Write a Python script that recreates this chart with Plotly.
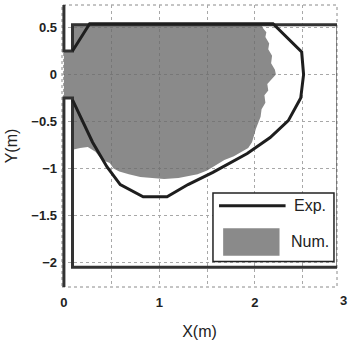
import plotly.graph_objects as go

# ---- data (metres) ----
# Experimental flood boundary (Exp.)
exp_x = [0.09, 0.27, 2.19, 2.49, 2.51, 2.48, 2.35, 2.16, 1.92, 1.56, 1.30, 1.20, 1.08, 0.83, 0.59, 0.45, 0.30, 0.09]
exp_y = [0.25, 0.54, 0.54, 0.24, 0.00, -0.25, -0.49, -0.67, -0.84, -1.04, -1.17, -1.23, -1.30, -1.30, -1.17, -0.98, -0.72, -0.27]

# Numerical flooded area (Num.)
num_x = [0.00, 0.09, 0.09, 2.07, 2.08, 2.12, 2.11, 2.15, 2.14, 2.18, 2.17, 2.21, 2.22, 2.17, 2.13, 2.14,
         2.10, 2.11, 2.07, 2.06, 2.03, 2.01, 1.99, 1.97, 1.93, 1.86, 1.78, 1.68, 1.60, 1.50, 1.40, 1.30,
         1.20, 1.05, 0.95, 0.80, 0.68, 0.58, 0.52, 0.48, 0.40, 0.36, 0.33, 0.25, 0.17, 0.09, 0.09, 0.00]
num_y = [0.25, 0.25, 0.54, 0.54, 0.50, 0.45, 0.40, 0.33, 0.27, 0.20, 0.12, 0.05, 0.00, -0.05, -0.10, -0.17,
         -0.22, -0.30, -0.37, -0.45, -0.52, -0.58, -0.65, -0.72, -0.78, -0.82, -0.87, -0.91, -0.96, -1.02, -1.06, -1.08,
         -1.10, -1.11, -1.10, -1.09, -1.06, -1.03, -1.00, -0.94, -0.91, -0.86, -0.82, -0.77, -0.78, -0.80, -0.25, -0.25]

# Basin walls with inlet
tank_x = [0.00, 0.00, 0.09, 0.09, 2.87, 2.87, 0.09, 0.09, 0.00, 0.00]
tank_y = [0.74, 0.25, 0.25, 0.53, 0.53, -2.05, -2.05, -0.25, -0.25, -2.26]

x_ticks = [0, 0.5, 1, 1.5, 2, 2.5]
x_labels = ["0", "", "1", "", "2", ""]
y_ticks = [0.5, 0, -0.5, -1, -1.5, -2]
y_labels = ["0.5", "0", "\u22120.5", "\u22121", "\u22121.5", "\u22122"]

FONT = "Liberation Sans, Arial, sans-serif"

fig = go.Figure()
fig.add_trace(go.Scatter(x=num_x, y=num_y, fill="toself", mode="lines",
                         line=dict(width=0), fillcolor="rgba(105,105,105,0.78)",
                         name="Num.", showlegend=False, hoverinfo="skip"))
fig.add_trace(go.Scatter(x=tank_x, y=tank_y, mode="lines",
                         line=dict(color="#333333", width=3), showlegend=False, hoverinfo="skip"))
fig.add_trace(go.Scatter(x=exp_x, y=exp_y, mode="lines",
                         line=dict(color="#1e1e1e", width=3), name="Exp.", showlegend=False))

grid = dict(showgrid=True, gridcolor="#a8a8a8", griddash="dot", gridwidth=1,
            zeroline=False, showline=False, ticks="",
            tickfont=dict(family=FONT, size=13, color="#222", weight="bold"))

fig.update_xaxes(range=[-0.02, 2.86], tickvals=x_ticks, ticktext=x_labels,
                 ticklabelstandoff=6,
                 title=dict(text="X(m)", font=dict(family=FONT, size=16, color="#222"), standoff=16),
                 **grid)
fig.update_yaxes(range=[-2.26, 0.74], tickvals=y_ticks, ticktext=y_labels,
                 ticklabelstandoff=4,
                 title=dict(text="Y(m)", font=dict(family=FONT, size=16, color="#222"), standoff=9),
                 **grid)

shapes = [
    # dotted axes box
    dict(type="rect", xref="paper", yref="paper", x0=0, x1=1, y0=0, y1=1,
         line=dict(color="#8a8a8a", width=1, dash="dot"), layer="below"),
    # legend box
    dict(type="rect", xref="paper", yref="paper", x0=0.549, x1=0.989, y0=0.090, y1=0.333,
         line=dict(color="#222", width=1.5), fillcolor="white", layer="above"),
    dict(type="line", xref="paper", yref="paper", x0=0.571, x1=0.813, y0=0.288, y1=0.288,
         line=dict(color="#1e1e1e", width=3), layer="above"),
    dict(type="rect", xref="paper", yref="paper", x0=0.586, x1=0.791, y0=0.111, y1=0.208,
         line=dict(width=0), fillcolor="#8a8a8a", layer="above"),
]
annotations = [
    dict(text="Exp.", xref="paper", yref="paper", x=0.967, y=0.288, xanchor="right", yanchor="middle",
         showarrow=False, font=dict(family=FONT, size=16, color="#222")),
    dict(text="Num.", xref="paper", yref="paper", x=0.978, y=0.160, xanchor="right", yanchor="middle",
         showarrow=False, font=dict(family=FONT, size=16, color="#222")),
    dict(text="3", xref="paper", yref="paper", x=1.022, y=-0.048, xanchor="center", yanchor="middle",
         showarrow=False, font=dict(family=FONT, size=13, color="#222", weight="bold")),
]

fig.update_layout(width=348, height=342, margin=dict(l=62, r=11, t=5, b=49),
                  plot_bgcolor="white", paper_bgcolor="white",
                  shapes=shapes, annotations=annotations, showlegend=False)

fig.write_html("out.html")
